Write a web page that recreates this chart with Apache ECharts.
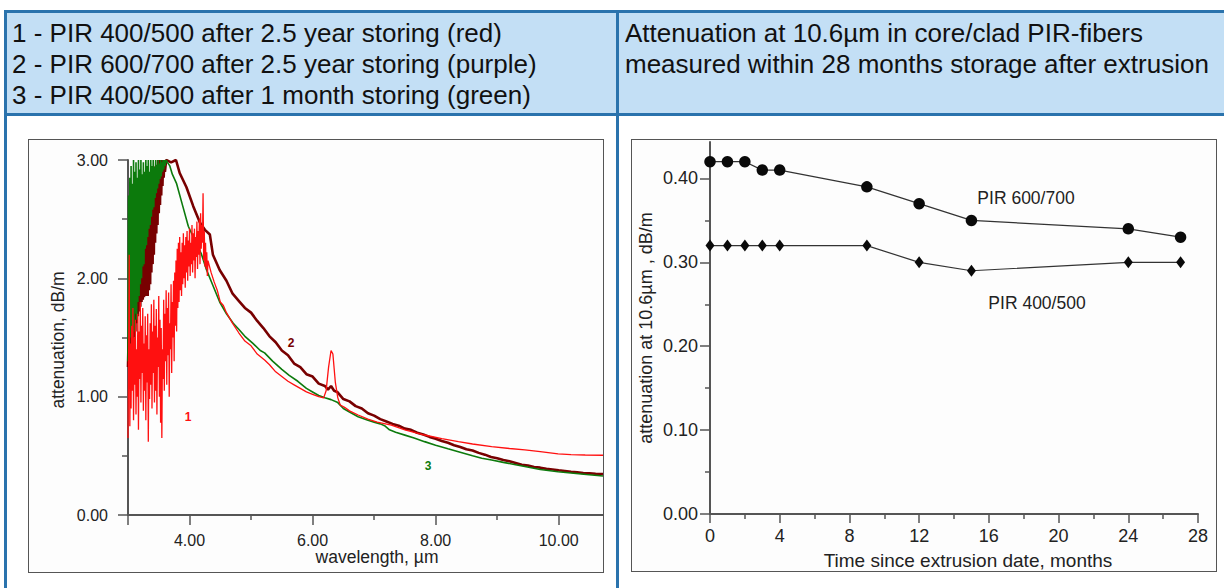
<!DOCTYPE html>
<html><head><meta charset="utf-8">
<script src="https://cdn.jsdelivr.net/npm/echarts@6/dist/echarts.min.js"></script>
<style>
html,body{margin:0;padding:0;background:#fff;width:1224px;height:588px;overflow:hidden;position:relative;font-family:"Liberation Sans",Arial,sans-serif;}
.b{position:absolute;background:#2a73ad;}
.cell{position:absolute;background:#c3dff5;}
.hdr{position:absolute;color:#111;font-size:26px;line-height:31px;white-space:nowrap;}
.frame{position:absolute;border:1.5px solid #555;background:#fdfdfd;box-sizing:border-box;}
#chart{position:absolute;left:0;top:0;width:1224px;height:588px;}
</style></head><body>
<div class="cell" style="left:7px;top:13px;width:609px;height:100px"></div>
<div class="cell" style="left:619px;top:13px;width:605px;height:100px"></div>
<div class="b" style="left:4px;top:10px;width:1220px;height:3px"></div>
<div class="b" style="left:4px;top:113px;width:1220px;height:3px"></div>
<div class="b" style="left:4px;top:10px;width:3px;height:578px"></div>
<div class="b" style="left:616px;top:10px;width:3px;height:578px"></div>
<div class="frame" style="left:28px;top:139px;width:576px;height:434px"></div>
<div class="frame" style="left:631px;top:139px;width:586px;height:433px"></div>
<div class="hdr" style="left:12px;top:18px">1 - PIR 400/500 after 2.5 year storing (red)<br>2 - PIR 600/700 after 2.5 year storing (purple)<br>3 - PIR 400/500 after 1 month storing (green)</div>
<div class="hdr" style="left:625px;top:18px">Attenuation at 10.6µm in core/clad PIR-fibers<br>measured within 28 months storage after extrusion</div>
<div id="chart"></div>
<script>
// ---- Left chart: attenuation spectra ----
// Curve 1 (red): PIR 400/500 after 2.5 year storing
const wl1 = [3.00,3.01,3.02,3.03,3.04,3.05,3.06,3.07,3.08,3.09,3.10,3.11,3.12,3.13,3.14,3.15,3.16,3.17,3.18,3.19,3.20,3.21,3.22,3.23,3.24,3.25,3.26,3.27,3.28,3.29,3.30,3.31,3.32,3.33,3.34,3.35,3.36,3.37,3.38,3.39,3.40,3.41,3.42,3.43,3.44,3.45,3.46,3.47,3.48,3.49,3.50,3.51,3.52,3.53,3.54,3.55,3.56,3.57,3.58,3.59,3.60,3.61,3.62,3.63,3.64,3.65,3.66,3.67,3.68,3.69,3.70,3.71,3.72,3.73,3.74,3.75,3.76,3.77,3.78,3.79,3.80,3.81,3.82,3.83,3.84,3.85,3.86,3.87,3.88,3.89,3.90,3.91,3.92,3.93,3.94,3.95,3.96,3.97,3.98,3.99,4.00,4.01,4.02,4.03,4.04,4.05,4.06,4.07,4.08,4.09,4.10,4.11,4.12,4.13,4.14,4.15,4.16,4.17,4.18,4.19,4.20,4.21,4.22,4.23,4.24,4.25,4.26,4.27,4.28,4.29,4.30,4.35,4.40,4.45,4.50,4.55,4.60,4.70,4.80,4.90,5.00,5.10,5.22,5.30,5.40,5.50,5.60,5.70,5.80,5.90,6.00,6.10,6.18,6.22,6.26,6.30,6.33,6.37,6.41,6.45,6.52,6.60,6.74,6.90,7.05,7.28,7.50,7.82,8.10,8.37,8.60,8.91,9.20,9.45,9.70,9.99,10.20,10.43,10.72];
const at1 = [0.65,1.30,2.20,0.75,1.45,0.90,1.60,1.05,1.75,0.80,1.50,1.10,1.65,0.85,1.40,1.00,1.70,0.72,1.55,1.15,1.80,0.95,1.60,1.20,1.75,0.88,1.45,1.05,1.68,0.80,1.52,1.12,1.70,0.62,1.40,0.98,1.62,1.10,1.78,0.90,1.55,1.20,1.82,0.95,1.60,1.05,1.74,0.85,1.50,1.25,1.85,1.00,1.65,0.78,1.58,0.65,1.40,1.15,1.82,1.05,1.70,1.30,1.90,1.10,1.75,1.35,1.88,1.00,1.62,1.40,1.95,1.20,1.80,1.50,1.98,1.30,2.05,1.60,2.15,1.55,2.25,1.75,2.30,1.80,2.35,1.90,2.22,1.85,2.30,1.95,2.38,2.00,2.28,1.92,2.35,2.05,2.40,1.98,2.32,2.10,2.42,2.02,2.30,2.12,2.45,2.05,2.38,2.15,2.42,2.00,2.35,2.18,2.48,2.08,2.40,2.20,2.50,2.12,2.55,2.25,2.45,2.30,2.72,2.15,2.40,2.10,2.30,2.08,2.22,2.02,2.15,2.05,1.97,1.90,1.80,1.77,1.71,1.62,1.54,1.47,1.43,1.36,1.31,1.27,1.21,1.17,1.13,1.10,1.07,1.04,1.02,1.00,0.99,1.05,1.25,1.39,1.36,1.12,0.99,0.93,0.91,0.88,0.845,0.81,0.785,0.76,0.72,0.676,0.645,0.62,0.60,0.577,0.562,0.55,0.535,0.516,0.51,0.507,0.505];
// Curve 2 (dark red / "purple"): PIR 600/700 after 2.5 year storing
const wl2 = [3.00,3.01,3.02,3.03,3.04,3.05,3.06,3.07,3.08,3.09,3.10,3.11,3.12,3.13,3.14,3.15,3.16,3.17,3.18,3.19,3.20,3.21,3.22,3.23,3.24,3.25,3.26,3.27,3.28,3.29,3.30,3.31,3.32,3.33,3.34,3.35,3.36,3.37,3.38,3.39,3.40,3.41,3.42,3.43,3.44,3.45,3.46,3.47,3.48,3.49,3.50,3.51,3.52,3.53,3.54,3.55,3.56,3.57,3.58,3.59,3.60,3.62,3.70,3.78,3.84,3.95,4.06,4.17,4.25,4.33,4.38,4.49,4.60,4.70,4.80,4.90,5.00,5.10,5.20,5.30,5.40,5.50,5.60,5.70,5.80,5.90,6.00,6.10,6.20,6.25,6.30,6.35,6.40,6.50,6.60,6.70,6.80,6.90,7.00,7.10,7.20,7.30,7.40,7.50,7.60,7.70,7.80,7.90,8.00,8.10,8.20,8.30,8.40,8.50,8.60,8.70,8.80,8.90,9.00,9.10,9.20,9.30,9.40,9.50,9.60,9.70,9.80,9.90,10.00,10.10,10.20,10.30,10.40,10.50,10.60,10.72];
const at2 = [1.25,1.50,1.30,1.60,1.35,1.70,1.40,1.80,1.45,1.85,1.50,1.95,1.55,2.05,1.62,2.10,1.68,2.20,1.72,2.25,1.76,2.30,1.80,2.40,1.82,2.45,1.84,2.50,1.85,2.55,1.86,2.62,1.85,2.70,1.90,2.75,1.95,2.80,2.05,2.85,2.12,2.88,2.20,2.90,2.30,2.95,2.38,2.92,2.45,3.00,2.55,2.96,2.62,3.00,2.70,2.98,2.78,3.00,2.85,3.00,2.90,3.00,2.98,3.00,2.89,2.77,2.61,2.47,2.41,2.37,2.20,2.07,1.98,1.87,1.81,1.75,1.71,1.64,1.58,1.51,1.46,1.39,1.35,1.28,1.25,1.19,1.17,1.11,1.09,1.06,1.09,1.05,1.04,0.98,0.96,0.92,0.90,0.86,0.84,0.81,0.79,0.77,0.755,0.73,0.72,0.695,0.68,0.66,0.645,0.625,0.61,0.59,0.575,0.555,0.545,0.525,0.51,0.49,0.48,0.465,0.455,0.44,0.425,0.418,0.405,0.40,0.39,0.385,0.378,0.372,0.365,0.36,0.355,0.352,0.348,0.346];
// Curve 3 (green): PIR 400/500 after 1 month storing
const wl3 = [3.00,3.01,3.02,3.03,3.04,3.05,3.06,3.07,3.08,3.09,3.10,3.11,3.12,3.13,3.14,3.15,3.16,3.17,3.18,3.19,3.20,3.21,3.22,3.23,3.24,3.25,3.26,3.27,3.28,3.29,3.30,3.31,3.32,3.33,3.34,3.35,3.36,3.37,3.38,3.39,3.40,3.41,3.42,3.43,3.44,3.45,3.46,3.47,3.48,3.49,3.50,3.51,3.52,3.53,3.54,3.55,3.56,3.57,3.58,3.59,3.60,3.62,3.64,3.68,3.72,3.79,3.89,3.98,4.06,4.19,4.27,4.38,4.49,4.60,4.71,4.80,4.90,5.03,5.15,5.22,5.35,5.50,5.62,5.76,5.90,6.00,6.10,6.20,6.30,6.41,6.50,6.60,6.74,6.90,7.00,7.10,7.17,7.25,7.35,7.50,7.65,7.82,8.00,8.20,8.37,8.60,8.75,8.91,9.10,9.30,9.45,9.70,9.99,10.20,10.45,10.72];
const at3 = [1.30,2.70,1.40,2.85,1.50,2.95,1.45,2.80,1.60,3.00,1.55,2.90,1.70,2.98,1.65,2.85,1.80,3.00,1.85,2.92,1.95,3.00,2.00,2.88,2.10,2.98,2.12,2.90,2.25,3.00,2.28,2.95,2.35,3.00,2.42,2.90,2.45,3.00,2.52,2.95,2.58,3.00,2.60,2.94,2.68,3.00,2.72,2.96,2.76,3.00,2.80,2.97,2.84,3.00,2.86,2.98,2.90,3.00,2.92,3.00,2.95,3.00,2.98,2.95,2.88,2.80,2.61,2.44,2.35,2.21,2.08,1.94,1.80,1.70,1.62,1.57,1.51,1.45,1.39,1.37,1.30,1.23,1.18,1.13,1.07,1.04,1.01,0.99,0.975,0.95,0.90,0.87,0.83,0.80,0.785,0.77,0.755,0.72,0.70,0.675,0.65,0.62,0.59,0.56,0.535,0.50,0.48,0.465,0.445,0.425,0.41,0.385,0.366,0.355,0.342,0.33];
const wlLabels = [4, 6, 8, 10];
const wlMinor = [5, 7, 9];

// ---- Right chart: attenuation at 10.6 um vs storage time ----
const months = [0, 1, 2, 3, 4, 9, 12, 15, 24, 27];
const pir600 = [0.42, 0.42, 0.42, 0.41, 0.41, 0.39, 0.37, 0.35, 0.34, 0.33];
const pir400 = [0.32, 0.32, 0.32, 0.32, 0.32, 0.32, 0.30, 0.29, 0.30, 0.30];
const attTicks = [0, 0.1, 0.2, 0.3, 0.4];
const attMinor = [0.05, 0.15, 0.25, 0.35];

const zip = (a, b) => a.map((v, i) => [v, b[i]]);
const FONT = '"Liberation Sans", Arial, sans-serif';
const AX = '#555';
const TXT = '#222';

const chart = echarts.init(document.getElementById('chart'), null, {renderer: 'svg'});
const option = {
  animation: false,
  backgroundColor: 'transparent',
  textStyle: {fontFamily: FONT},
  grid: [
    {left: 128, top: 160, width: 475, height: 355},
    {left: 710, top: 142, width: 488, height: 372}
  ],
  xAxis: [
    {gridIndex: 0, type: 'value', position: 'bottom', min: 3, max: 10.72,
     axisLine: {lineStyle: {color: AX, width: 2}},
     axisTick: {customValues: [3].concat(wlLabels), length: 10, lineStyle: {color: AX, width: 1.5}},
     axisLabel: {customValues: wlLabels, formatter: v => v.toFixed(2), color: TXT, fontSize: 16, margin: 17, fontFamily: FONT},
     splitLine: {show: false}},
    {gridIndex: 0, type: 'value', position: 'bottom', min: 3, max: 10.72,
     axisLine: {show: false},
     axisTick: {customValues: wlMinor, length: 5, lineStyle: {color: AX, width: 1.5}},
     axisLabel: {show: false}, splitLine: {show: false}},
    {gridIndex: 1, type: 'value', position: 'bottom', min: 0, max: 28, interval: 4,
     axisLine: {lineStyle: {color: AX, width: 2}},
     axisTick: {length: 9, lineStyle: {color: AX, width: 1.5}},
     minorTick: {show: true, splitNumber: 2, length: 5, lineStyle: {color: AX, width: 1.5}},
     axisLabel: {color: TXT, fontSize: 18, margin: 13, fontFamily: FONT},
     splitLine: {show: false}, minorSplitLine: {show: false}}
  ],
  yAxis: [
    {gridIndex: 0, type: 'value', position: 'left', min: 0, max: 3, interval: 1,
     axisLine: {lineStyle: {color: AX, width: 2}},
     axisTick: {length: 10, lineStyle: {color: AX, width: 1.5}},
     minorTick: {show: true, splitNumber: 2, length: 6, lineStyle: {color: AX, width: 1.5}},
     axisLabel: {formatter: v => v.toFixed(2), color: TXT, fontSize: 16, margin: 20, fontFamily: FONT},
     splitLine: {show: false}, minorSplitLine: {show: false}},
    {gridIndex: 1, type: 'value', position: 'left', min: 0, max: 0.4435,
     axisLine: {lineStyle: {color: AX, width: 2}},
     axisTick: {customValues: attTicks, length: 10, lineStyle: {color: AX, width: 1.5}},
     axisLabel: {customValues: attTicks, formatter: v => v.toFixed(2), color: TXT, fontSize: 18, margin: 12, fontFamily: FONT},
     splitLine: {show: false}},
    {gridIndex: 1, type: 'value', position: 'left', min: 0, max: 0.4435,
     axisLine: {show: false},
     axisTick: {customValues: attMinor, length: 5, lineStyle: {color: AX, width: 1.5}},
     axisLabel: {show: false}, splitLine: {show: false}}
  ],
  series: [
    {name: '2 - PIR 600/700 after 2.5 year storing', type: 'line', xAxisIndex: 0, yAxisIndex: 0, z: 2,
     data: zip(wl2, at2), showSymbol: false, symbol: 'none', lineStyle: {color: '#780000', width: 2.6}, itemStyle: {color: '#780000'}},
    {name: '3 - PIR 400/500 after 1 month storing', type: 'line', xAxisIndex: 0, yAxisIndex: 0, z: 3,
     data: zip(wl3, at3), showSymbol: false, symbol: 'none', lineStyle: {color: '#0c7a0c', width: 1.6}, itemStyle: {color: '#0c7a0c'}},
    {name: '1 - PIR 400/500 after 2.5 year storing', type: 'line', xAxisIndex: 0, yAxisIndex: 0, z: 4,
     data: zip(wl1, at1), showSymbol: false, symbol: 'none', lineStyle: {color: '#ff1010', width: 1.3}, itemStyle: {color: '#ff1010'}},
    {name: 'PIR 600/700', type: 'line', xAxisIndex: 2, yAxisIndex: 1,
     data: zip(months, pir600), symbol: 'circle', symbolSize: 11.5,
     lineStyle: {color: '#333', width: 1.2}, itemStyle: {color: '#0a0a0a'}},
    {name: 'PIR 400/500', type: 'line', xAxisIndex: 2, yAxisIndex: 1,
     data: zip(months, pir400), symbol: 'diamond', symbolSize: [9, 12],
     lineStyle: {color: '#333', width: 1.2}, itemStyle: {color: '#0a0a0a'}}
  ],
  graphic: [
    {type: 'text', x: 58, y: 340, rotation: Math.PI / 2, style: {text: 'attenuation, dB/m', font: '17.5px ' + FONT, fill: TXT, textAlign: 'center', textVerticalAlign: 'middle'}},
    {type: 'text', x: 377, y: 557, style: {text: 'wavelength, µm', font: '17.5px ' + FONT, fill: TXT, textAlign: 'center', textVerticalAlign: 'middle'}},
    {type: 'text', x: 646, y: 328, rotation: Math.PI / 2, style: {text: 'attenuation at 10.6µm , dB/m', font: '18px ' + FONT, fill: TXT, textAlign: 'center', textVerticalAlign: 'middle'}},
    {type: 'text', x: 968, y: 560, style: {text: 'Time since extrusion date, months', font: '19px ' + FONT, fill: TXT, textAlign: 'center', textVerticalAlign: 'middle'}},
    {type: 'text', x: 188, y: 417, style: {text: '1', font: 'bold 12px ' + FONT, fill: '#ff1010', textAlign: 'center', textVerticalAlign: 'middle'}},
    {type: 'text', x: 291, y: 343, style: {text: '2', font: 'bold 12px ' + FONT, fill: '#780000', textAlign: 'center', textVerticalAlign: 'middle'}},
    {type: 'text', x: 428, y: 466, style: {text: '3', font: 'bold 12px ' + FONT, fill: '#0c7a0c', textAlign: 'center', textVerticalAlign: 'middle'}},
    {type: 'text', x: 1026, y: 198, style: {text: 'PIR 600/700', font: '17.5px ' + FONT, fill: TXT, textAlign: 'center', textVerticalAlign: 'middle'}},
    {type: 'text', x: 1037, y: 303, style: {text: 'PIR 400/500', font: '17.5px ' + FONT, fill: TXT, textAlign: 'center', textVerticalAlign: 'middle'}}
  ]
};
chart.setOption(option);
</script>
</body></html>
